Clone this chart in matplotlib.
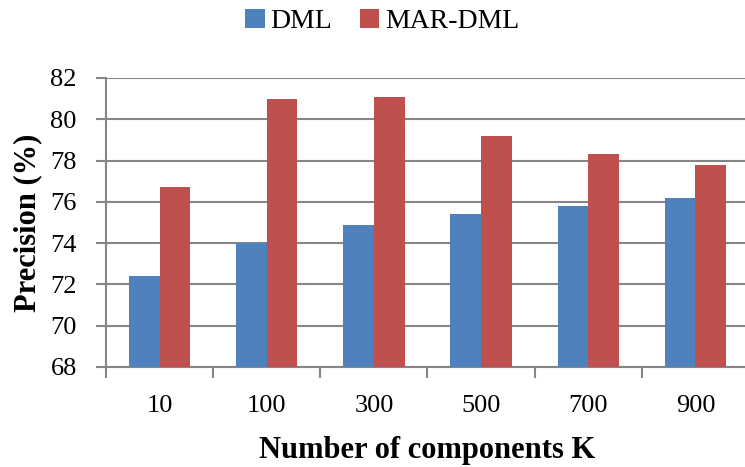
import numpy as np
import matplotlib.pyplot as plt

# precision per number of components
components = ["10", "100", "300", "500", "700", "900"]
dml = [72.4, 74.0, 74.9, 75.4, 75.8, 76.2]
mar_dml = [76.7, 81.0, 81.1, 79.2, 78.3, 77.8]

plt.rcParams['font.family'] = ['Liberation Serif', 'DejaVu Serif']

fig = plt.figure(figsize=(7.45, 4.67), dpi=100)
ax = fig.add_axes([106/745, 1 - 367/467, (749-106)/745, (367-78)/467])

x = np.arange(len(components))
w = 1 / 3.5   # gap width 150%
grid_col = '#868686'

ax.bar(x - w/2, dml, w, color='#4F81BD', label='DML', zorder=3)
ax.bar(x + w/2, mar_dml, w, color='#C0504D', label='MAR-DML', zorder=3)

ax.set_ylim(68, 82)
ax.set_yticks(np.arange(68, 83, 2))
ax.set_xlim(-0.5, len(components) - 0.5)
ax.set_xticks(x)
ax.set_xticklabels(components)
ax.set_xticks(np.arange(-0.5, len(components), 1), minor=True)
ax.yaxis.grid(True, color=grid_col, linewidth=1.5, zorder=0)

for s in ['top', 'right']:
    ax.spines[s].set_visible(False)
for s in ['left', 'bottom']:
    ax.spines[s].set_color(grid_col)
    ax.spines[s].set_linewidth(1.5)

ax.tick_params(axis='y', which='major', length=7, width=1.5, color=grid_col,
               labelsize=19, pad=14)
ax.tick_params(axis='x', which='major', length=0, labelsize=19, pad=20)
ax.tick_params(axis='x', which='minor', length=8, width=1.5, color=grid_col)

ax.set_xlabel('Number of components K', fontsize=22, fontweight='bold', labelpad=14)
ax.set_ylabel('Precision (%)', fontsize=22, fontweight='bold', labelpad=6)

fig.legend(loc='upper center', bbox_to_anchor=(0.513, 1.035), ncol=2, frameon=False,
           fontsize=20, handlelength=0.7, handleheight=0.7, handletextpad=0.2,
           columnspacing=1.0)

fig.savefig('out.png', dpi=100)
